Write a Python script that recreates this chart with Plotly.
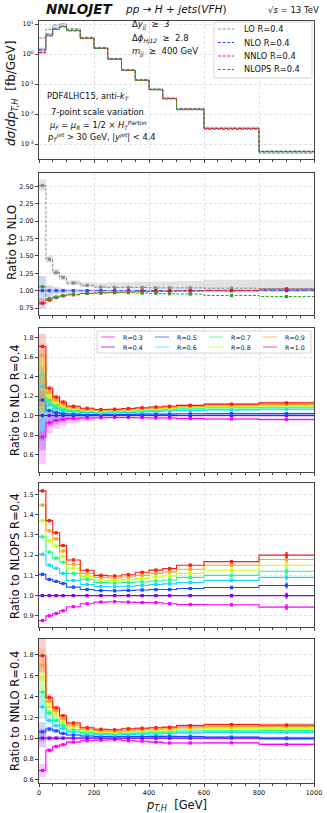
import plotly.graph_objects as go
from plotly.subplots import make_subplots

# p_T,H bin edges [GeV]
pt_edges = [0, 25, 50, 75, 100, 150, 200, 250, 300, 350, 400, 450, 500, 600, 800, 1000]

# top panel: dsigma/dpT,H [fb/GeV], R=0.4
lo_xs = [3.4, 6.7, 9.2, 10.1, 6.9, 3.6, 1.65, 0.71, 0.30, 0.14, 0.068, 0.034, 0.0149, 0.0034, 0.00057]
nlo_xs = [1.35, 4.6, 7.3, 8.6, 6.3, 3.4, 1.58, 0.68, 0.29, 0.135, 0.066, 0.033, 0.0145, 0.0033, 0.00055]
nnlo_xs = [1.11, 4.0, 6.6, 8.0, 5.9, 3.28, 1.54, 0.667, 0.286, 0.134, 0.065, 0.0328, 0.0145, 0.0033, 0.00056]
nlops_xs = [1.43, 4.1, 6.6, 8.0, 6.0, 3.26, 1.53, 0.66, 0.281, 0.130, 0.063, 0.0315, 0.0138, 0.00307, 0.0005]

# ratio to NLO (central + scale band)
lo_ratio = [2.51, 1.45, 1.26, 1.19, 1.11, 1.075, 1.05, 1.045, 1.045, 1.045, 1.04, 1.04, 1.04, 1.035, 1.03]
lo_ratio_lo = [2.44, 1.40, 1.22, 1.15, 1.08, 1.05, 1.035, 1.03, 1.03, 1.03, 1.025, 1.025, 1.02, 1.01, 0.995]
lo_ratio_hi = [2.60, 1.50, 1.31, 1.23, 1.15, 1.12, 1.11, 1.12, 1.12, 1.13, 1.13, 1.13, 1.14, 1.155, 1.16]
nlo_ratio = [1.0, 1.0, 1.0, 1.0, 1.0, 1.0, 1.0, 1.0, 1.0, 1.0, 1.0, 1.0, 1.0, 1.0, 1.0]
nlo_ratio_lo = [0.74, 0.91, 0.95, 0.965, 0.975, 0.98, 0.985, 0.985, 0.985, 0.985, 0.985, 0.985, 0.985, 0.985, 0.985]
nlo_ratio_hi = [1.21, 1.075, 1.05, 1.035, 1.025, 1.02, 1.015, 1.015, 1.015, 1.015, 1.015, 1.015, 1.015, 1.015, 1.015]
nnlo_ratio = [0.82, 0.865, 0.90, 0.925, 0.94, 0.96, 0.97, 0.975, 0.98, 0.985, 0.99, 0.99, 0.995, 1.0, 1.02]
nnlo_ratio_lo = [0.79, 0.85, 0.89, 0.915, 0.93, 0.955, 0.965, 0.97, 0.975, 0.98, 0.985, 0.985, 0.99, 0.99, 1.005]
nnlo_ratio_hi = [0.89, 0.885, 0.915, 0.935, 0.95, 0.97, 0.978, 0.983, 0.988, 0.993, 0.998, 1.0, 1.005, 1.01, 1.03]
nlops_ratio = [1.055, 0.885, 0.91, 0.93, 0.95, 0.96, 0.965, 0.97, 0.97, 0.965, 0.96, 0.955, 0.95, 0.93, 0.915]

r_labels = ["R=0.3", "R=0.4", "R=0.5", "R=0.6", "R=0.7", "R=0.8", "R=0.9", "R=1.0"]
r_colors = ["#ff00ff", "#8000ff", "#1a4dff", "#1ad9ff", "#1aff8c", "#c6ff1a", "#ffa31a", "#ff1a1a"]

# ratio to NLO R=0.4
nlo_r03 = [0.78, 0.925, 0.95, 0.96, 0.97, 0.975, 0.978, 0.98, 0.98, 0.978, 0.975, 0.975, 0.97, 0.965, 0.96]
nlo_r04 = [1.0, 1.0, 1.0, 1.0, 1.0, 1.0, 1.0, 1.0, 1.0, 1.0, 1.0, 1.0, 1.0, 1.0, 1.0]
nlo_r05 = [1.16, 1.05, 1.03, 1.02, 1.015, 1.01, 1.01, 1.01, 1.012, 1.015, 1.015, 1.015, 1.018, 1.02, 1.02]
nlo_r06 = [1.30, 1.11, 1.07, 1.05, 1.04, 1.03, 1.025, 1.028, 1.032, 1.037, 1.042, 1.047, 1.052, 1.058, 1.065]
nlo_r07 = [1.42, 1.15, 1.10, 1.07, 1.055, 1.045, 1.037, 1.04, 1.045, 1.05, 1.056, 1.062, 1.07, 1.08, 1.085]
nlo_r08 = [1.53, 1.20, 1.13, 1.10, 1.07, 1.055, 1.046, 1.049, 1.054, 1.062, 1.068, 1.074, 1.083, 1.093, 1.10]
nlo_r09 = [1.62, 1.24, 1.16, 1.12, 1.083, 1.065, 1.054, 1.057, 1.063, 1.071, 1.078, 1.085, 1.094, 1.106, 1.115]
nlo_r10 = [1.71, 1.28, 1.19, 1.14, 1.095, 1.075, 1.062, 1.065, 1.072, 1.08, 1.088, 1.095, 1.105, 1.118, 1.13]
nlo_band_up = [0.075, 0.025, 0.02, 0.015, 0.012, 0.01, 0.008, 0.008, 0.008, 0.008, 0.008, 0.008, 0.008, 0.01, 0.012]
nlo_band_dn = [0.36, 0.12, 0.09, 0.07, 0.05, 0.03, 0.02, 0.015, 0.012, 0.012, 0.012, 0.012, 0.012, 0.012, 0.015]

# ratio to NLOPS R=0.4
ps_r03 = [0.877, 0.90, 0.912, 0.925, 0.945, 0.96, 0.968, 0.97, 0.968, 0.966, 0.965, 0.96, 0.956, 0.955, 0.943]
ps_r04 = [1.0, 1.0, 1.0, 1.0, 1.0, 1.0, 1.0, 1.0, 1.0, 1.0, 1.0, 1.0, 1.0, 1.0, 1.0]
ps_r05 = [1.105, 1.08, 1.07, 1.06, 1.042, 1.03, 1.025, 1.024, 1.026, 1.028, 1.03, 1.03, 1.035, 1.04, 1.05]
ps_r06 = [1.204, 1.15, 1.135, 1.11, 1.075, 1.055, 1.045, 1.044, 1.046, 1.05, 1.055, 1.058, 1.065, 1.075, 1.09]
ps_r07 = [1.29, 1.215, 1.185, 1.165, 1.11, 1.08, 1.065, 1.062, 1.064, 1.067, 1.072, 1.077, 1.09, 1.10, 1.12]
ps_r08 = [1.37, 1.27, 1.245, 1.195, 1.135, 1.095, 1.078, 1.075, 1.079, 1.085, 1.092, 1.097, 1.11, 1.125, 1.15]
ps_r09 = [1.447, 1.32, 1.28, 1.22, 1.155, 1.11, 1.09, 1.087, 1.092, 1.10, 1.11, 1.117, 1.13, 1.15, 1.178]
ps_r10 = [1.517, 1.37, 1.31, 1.247, 1.176, 1.125, 1.10, 1.097, 1.103, 1.115, 1.126, 1.133, 1.15, 1.168, 1.20]
ps_stat = [0.004, 0.003, 0.003, 0.003, 0.003, 0.003, 0.003, 0.003, 0.003, 0.004, 0.004, 0.005, 0.005, 0.006, 0.012]

# ratio to NNLO R=0.4
nn_r03 = [0.69, 0.883, 0.92, 0.937, 0.962, 0.975, 0.98, 0.985, 0.975, 0.97, 0.962, 0.953, 0.953, 0.955, 0.94]
nn_r04 = [1.0, 1.0, 1.0, 1.0, 1.0, 1.0, 1.0, 1.0, 1.0, 1.0, 1.0, 1.0, 1.0, 1.0, 1.0]
nn_r05 = [1.06, 1.087, 1.07, 1.045, 1.03, 1.02, 1.015, 1.015, 1.015, 1.016, 1.017, 1.017, 1.015, 1.01, 0.995]
nn_r06 = [1.30, 1.17, 1.12, 1.09, 1.06, 1.04, 1.033, 1.03, 1.034, 1.038, 1.04, 1.045, 1.05, 1.055, 1.055]
nn_r07 = [1.44, 1.24, 1.17, 1.12, 1.08, 1.055, 1.045, 1.043, 1.048, 1.052, 1.055, 1.06, 1.068, 1.07, 1.072]
nn_r08 = [1.58, 1.30, 1.22, 1.155, 1.105, 1.07, 1.06, 1.055, 1.062, 1.066, 1.07, 1.075, 1.085, 1.095, 1.09]
nn_r09 = [1.70, 1.35, 1.26, 1.185, 1.125, 1.085, 1.072, 1.068, 1.076, 1.08, 1.085, 1.09, 1.10, 1.11, 1.11]
nn_r10 = [1.79, 1.39, 1.29, 1.215, 1.145, 1.10, 1.085, 1.08, 1.09, 1.095, 1.10, 1.105, 1.12, 1.13, 1.125]
nn_band = [0.09, 0.025, 0.02, 0.015, 0.012, 0.01, 0.01, 0.01, 0.01, 0.01, 0.01, 0.01, 0.012, 0.012, 0.015]

FONT = "DejaVu Sans"
# plot area in pixels (left, right, top, bottom)
L, R, T, B = 39, 314, 21, 783
DASH = "3px,1.6px"


def px(x):
    return (x - L) / (R - L)


def py(y):
    return (B - y) / (B - T)


def rgba(hexcol, a):
    h = hexcol.lstrip("#")
    return "rgba(%d,%d,%d,%s)" % (int(h[0:2], 16), int(h[2:4], 16), int(h[4:6], 16), a)


centers = [(pt_edges[i] + pt_edges[i + 1]) / 2 for i in range(len(pt_edges) - 1)]


def step(fig, row, vals, color, width=1.0, dash="solid"):
    fig.add_trace(go.Scatter(x=pt_edges, y=list(vals) + [vals[-1]], mode="lines", line_shape="hv",
                             line=dict(color=color, width=width, dash=dash),
                             showlegend=False, hoverinfo="skip"), row=row, col=1)


def band(fig, row, lo, hi, fillcolor):
    fig.add_trace(go.Scatter(x=pt_edges, y=list(lo) + [lo[-1]], mode="lines", line_shape="hv",
                             line=dict(width=0, color=fillcolor), showlegend=False, hoverinfo="skip"),
                  row=row, col=1)
    fig.add_trace(go.Scatter(x=pt_edges, y=list(hi) + [hi[-1]], mode="lines", line_shape="hv",
                             line=dict(width=0, color=fillcolor), fill="tonexty", fillcolor=fillcolor,
                             showlegend=False, hoverinfo="skip"), row=row, col=1)


def marks(fig, row, vals, color, err=None):
    ey = None
    if err is not None:
        ey = dict(type="data", array=err, color=color, thickness=0.8, width=1.5)
    fig.add_trace(go.Scatter(x=centers, y=vals, mode="markers", error_y=ey,
                             marker=dict(symbol="square", size=3.2, color=color),
                             showlegend=False, hoverinfo="skip"), row=row, col=1)


def main():
    fig = make_subplots(rows=5, cols=1, shared_xaxes=True)

    # ---- panel 1: distributions
    series = [("LO R=0.4", lo_xs, lo_ratio_lo, lo_ratio_hi, "#8c8c8c", "rgba(160,160,160,0.3)"),
              ("NLO R=0.4", nlo_xs, nlo_ratio_lo, nlo_ratio_hi, "#2850ff", "rgba(60,100,255,0.25)"),
              ("NNLO R=0.4", nnlo_xs, nnlo_ratio_lo, nnlo_ratio_hi, "#ff1010", "rgba(255,40,40,0.25)"),
              ("NLOPS R=0.4", nlops_xs, None, None, "#2ca02c", None)]
    for name, xs, blo, bhi, col, fcol in series:
        if blo is not None:
            band(fig, 1, [n * b for n, b in zip(nlo_xs, blo)], [n * b for n, b in zip(nlo_xs, bhi)], fcol)
        step(fig, 1, xs, col, width=1.0, dash=DASH)

    # ---- panel 2: ratio to NLO
    band(fig, 2, lo_ratio_lo, lo_ratio_hi, "rgba(160,160,160,0.3)")
    band(fig, 2, nlo_ratio_lo, nlo_ratio_hi, "rgba(60,100,255,0.25)")
    band(fig, 2, nnlo_ratio_lo, nnlo_ratio_hi, "rgba(255,40,40,0.25)")
    for vals, col, dsh in [(lo_ratio, "#8c8c8c", DASH), (nlo_ratio, "#2850ff", "4px,1.5px,1px,1.5px"),
                           (nnlo_ratio, "#ff1010", DASH), (nlops_ratio, "#2ca02c", DASH)]:
        step(fig, 2, vals, col, width=1.0, dash=dsh)
        marks(fig, 2, vals, col)

    # ---- panel 3: ratio to NLO R=0.4
    p3 = [nlo_r03, nlo_r04, nlo_r05, nlo_r06, nlo_r07, nlo_r08, nlo_r09, nlo_r10]
    for vals, col in zip(p3, r_colors):
        band(fig, 3, [v * (1 - d) for v, d in zip(vals, nlo_band_dn)],
             [v * (1 + u) for v, u in zip(vals, nlo_band_up)], rgba(col, 0.22))
    for vals, col in zip(p3, r_colors):
        step(fig, 3, vals, col, width=1.1)
        marks(fig, 3, vals, col)

    # ---- panel 4: ratio to NLOPS R=0.4
    p4 = [ps_r03, ps_r04, ps_r05, ps_r06, ps_r07, ps_r08, ps_r09, ps_r10]
    for vals, col in zip(p4, r_colors):
        step(fig, 4, vals, col, width=1.1)
        marks(fig, 4, vals, col, err=ps_stat)

    # ---- panel 5: ratio to NNLO R=0.4
    p5 = [nn_r03, nn_r04, nn_r05, nn_r06, nn_r07, nn_r08, nn_r09, nn_r10]
    for vals, col in zip(p5, r_colors):
        band(fig, 5, [v * (1 - d) for v, d in zip(vals, nn_band)],
             [v * (1 + d) for v, d in zip(vals, nn_band)], rgba(col, 0.22))
    for vals, col in zip(p5, r_colors):
        step(fig, 5, vals, col, width=1.1)
        marks(fig, 5, vals, col)

    axis_common = dict(showline=True, mirror=True, linecolor="#444", linewidth=1, ticks="outside",
                       tickcolor="#444", ticklen=3, tickfont=dict(family=FONT, size=6.5, color="#111"),
                       showgrid=True, gridcolor="#e2e2e2", griddash="3px,2px", gridwidth=0.8,
                       zeroline=False, automargin=False)
    domains = [(159, 21), (315, 173), (472, 328), (627, 483), (783, 639)]
    for i, (yb, yt) in enumerate(domains):
        suffix = "" if i == 0 else str(i + 1)
        fig.layout["yaxis" + suffix].update(domain=[py(yb), py(yt)], **axis_common)
        fig.layout["xaxis" + suffix].update(range=[0, 1000], dtick=200, tick0=0,
                                            minor=dict(dtick=50, ticklen=2, tickcolor="#444", showgrid=False),
                                            showticklabels=(i == 4), **axis_common)

    fig.update_yaxes(type="log", range=[-3.5, 1.1],
                     tickvals=[1e-3, 1e-2, 1e-1, 1, 10],
                     ticktext=["10<sup>-3</sup>", "10<sup>-2</sup>", "10<sup>-1</sup>", "10<sup>0</sup>", "10<sup>1</sup>"],
                     row=1, col=1)
    fig.update_yaxes(range=[0.65, 2.69], tick0=0.75, dtick=0.25, tickformat=".2f", row=2, col=1)
    fig.update_yaxes(range=[0.42, 1.9], tick0=0.6, dtick=0.2, tickformat=".1f", row=3, col=1)
    fig.update_yaxes(range=[0.845, 1.556], tick0=0.9, dtick=0.1, tickformat=".1f", row=4, col=1)
    fig.update_yaxes(range=[0.57, 1.95], tick0=0.6, dtick=0.2, tickformat=".1f", row=5, col=1)

    ann = []
    shapes = []

    def text(x, y, s, size, xanchor="left", angle=0, color="#111"):
        ann.append(dict(x=px(x), y=py(y), xref="paper", yref="paper", text=s, showarrow=False,
                        xanchor=xanchor, yanchor="middle", textangle=angle,
                        font=dict(family=FONT, size=size, color=color)))

    def box(x0, y0, x1, y1):
        shapes.append(dict(type="rect", xref="paper", yref="paper", x0=px(x0), x1=px(x1), y0=py(y1), y1=py(y0),
                           fillcolor="rgba(255,255,255,0.85)", line=dict(color="#cccccc", width=0.8)))

    def sample(x0, x1, y, color, width, dash="solid"):
        shapes.append(dict(type="line", xref="paper", yref="paper", x0=px(x0), x1=px(x1), y0=py(y), y1=py(y),
                           line=dict(color=color, width=width, dash=dash)))

    # legend of the top panel
    box(214, 22, 312, 78)
    for k, (name, _, _, _, col, _) in enumerate(series):
        yy = 29 + 13.5 * k
        sample(218, 234, yy, col, 1.0, DASH)
        text(242, yy, name, 8.3)

    # legend of the jet radii, 4 columns x 2 rows
    box(97, 331, 311, 353)
    for i, lab in enumerate(r_labels):
        cx = 101 + 54 * (i // 2)
        yy = 337 + 10 * (i % 2)
        sample(cx, cx + 14, yy, rgba(r_colors[i], 0.55), 1.3)
        text(cx + 20, yy, lab, 6.3)

    text(44, 9, "<b><i>NNLOJET</i></b>", 13.5)
    text(176, 9, "<i>pp</i> → <i>H</i> + <i>jets</i>(<i>VFH</i>)", 10.5, xanchor="center")
    text(321, 10, "√<i>s</i> = 13 TeV", 8.5, xanchor="right")

    text(130, 25, "Δ<i>y<sub>jj</sub></i>  ≥  3", 8.5)
    text(130, 39, "Δ<i>ϕ<sub>Hj12</sub></i>  ≥  2.8", 8.5)
    text(130, 52, "<i>m<sub>jj</sub></i>  ≥  400 GeV", 8.5)

    text(88, 97, "PDF4LHC15, anti-<i>k<sub>T</sub></i>", 8.3, xanchor="center")
    text(97, 112, "7-point scale variation", 8.3, xanchor="center")
    text(98, 125, "<i>μ<sub>F</sub></i> = <i>μ<sub>R</sub></i> = 1/2 × <i>H<sub>T</sub><sup>Parton</sup></i>", 8.3,
         xanchor="center")
    text(101, 138, "<i>p<sub>T</sub><sup>jet</sup></i> > 30 GeV, |<i>y<sup>jet</sup></i>| < 4.4", 8.3,
         xanchor="center")

    text(12, 94, "<i>dσ</i>/<i>dp<sub>T,H</sub></i>  [fb/GeV]", 12, xanchor="center", angle=-90)
    text(12, 243, "Ratio to NLO", 12, xanchor="center", angle=-90)
    text(15, 400, "Ratio to NLO R=0.4", 11.5, xanchor="center", angle=-90)
    text(15, 556, "Ratio to NLOPS R=0.4", 11.5, xanchor="center", angle=-90)
    text(15, 711, "Ratio to NNLO R=0.4", 11.5, xanchor="center", angle=-90)
    text(176, 805, "<i>p<sub>T,H</sub></i>  [GeV]", 11.5, xanchor="center")

    fig.update_layout(
        width=327, height=813,
        margin=dict(l=L, r=327 - R, t=T, b=813 - B),
        paper_bgcolor="white", plot_bgcolor="white",
        font=dict(family=FONT, size=8, color="#111"),
        showlegend=False,
        annotations=ann,
        shapes=shapes,
    )

    # the page body has a default 8px margin; drop it so the figure sits at the top-left corner
    fig.write_html("out.html", config={"displayModeBar": False},
                   post_script="document.body.style.margin='0px';")


if __name__ == "__main__":
    main()
